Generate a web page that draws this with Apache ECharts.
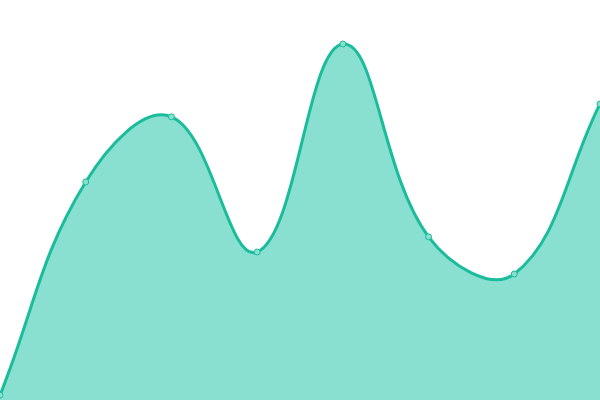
<!DOCTYPE html>
<html>
<head>
<meta charset="utf-8">
<script src="https://cdn.jsdelivr.net/npm/echarts@6/dist/echarts.min.js"></script>
<style>
html, body { margin: 0; padding: 0; background: #fff; }
#chart { width: 600px; height: 400px; }
</style>
</head>
<body>
<div id="chart"></div>
<script>
var categories = ['1', '2', '3', '4', '5', '6', '7', '8'];
var values = [1.2, 54.5, 70.8, 37, 89, 40.8, 31.5, 74];

var lineColor = '#1abc9c';
var fillColor = '#8ae0d0';
var tension = 0.4;

var chart = echarts.init(document.getElementById('chart'));

// cardinal-style spline through the points (lets the curve overshoot like the reference)
function buildCurve(api, box) {
    var pts = [];
    for (var i = 0; i < values.length; i++) {
        pts.push(api.coord([i, values[i]]));
    }
    var cps = [];
    for (var i = 0; i < pts.length; i++) {
        var cur = pts[i];
        var prev = pts[i - 1] || cur;
        var next = pts[i + 1] || cur;
        var d01 = Math.sqrt(Math.pow(cur[0] - prev[0], 2) + Math.pow(cur[1] - prev[1], 2));
        var d12 = Math.sqrt(Math.pow(next[0] - cur[0], 2) + Math.pow(next[1] - cur[1], 2));
        var s01 = d01 / (d01 + d12);
        var s12 = d12 / (d01 + d12);
        if (isNaN(s01)) s01 = 0;
        if (isNaN(s12)) s12 = 0;
        var fa = tension * s01;
        var fb = tension * s12;
        cps.push({
            inX: clamp(cur[0] - fa * (next[0] - prev[0]), box.x, box.x + box.width),
            inY: clamp(cur[1] - fa * (next[1] - prev[1]), box.y, box.y + box.height),
            outX: clamp(cur[0] + fb * (next[0] - prev[0]), box.x, box.x + box.width),
            outY: clamp(cur[1] + fb * (next[1] - prev[1]), box.y, box.y + box.height)
        });
    }
    var d = 'M' + pts[0][0] + ' ' + pts[0][1];
    for (var i = 1; i < pts.length; i++) {
        d += ' C' + cps[i - 1].outX + ' ' + cps[i - 1].outY + ' ' +
            cps[i].inX + ' ' + cps[i].inY + ' ' + pts[i][0] + ' ' + pts[i][1];
    }
    return { d: d, pts: pts };
}

function clamp(v, lo, hi) {
    return Math.max(lo, Math.min(hi, v));
}

var option = {
    animation: false,
    grid: { left: 0, right: 0, top: 0, bottom: 0 },
    xAxis: {
        type: 'category',
        boundaryGap: false,
        data: categories,
        show: false
    },
    yAxis: {
        type: 'value',
        min: 0,
        max: 100,
        show: false
    },
    series: [{
        type: 'custom',
        clip: false,
        data: values.map(function (v, i) { return [i, v]; }),
        renderItem: function (params, api) {
            var box = params.coordSys;
            var p = api.coord([api.value(0), api.value(1)]);
            var children = [];
            if (params.dataIndex === 0) {
                var curve = buildCurve(api, box);
                var last = curve.pts[curve.pts.length - 1];
                var bottom = box.y + box.height;
                children.push({
                    type: 'path',
                    shape: {
                        pathData: curve.d + ' L' + last[0] + ' ' + bottom +
                            ' L' + curve.pts[0][0] + ' ' + bottom + ' Z'
                    },
                    style: { fill: fillColor, stroke: 'none' },
                    z2: 1
                });
                children.push({
                    type: 'path',
                    shape: { pathData: curve.d },
                    style: { fill: 'none', stroke: lineColor, lineWidth: 3 },
                    z2: 2
                });
            }
            children.push({
                type: 'circle',
                shape: { cx: p[0], cy: p[1], r: 3 },
                style: { fill: fillColor, stroke: lineColor, lineWidth: 1 },
                z2: 3
            });
            return { type: 'group', children: children };
        }
    }]
};
chart.setOption(option);
</script>
</body>
</html>
